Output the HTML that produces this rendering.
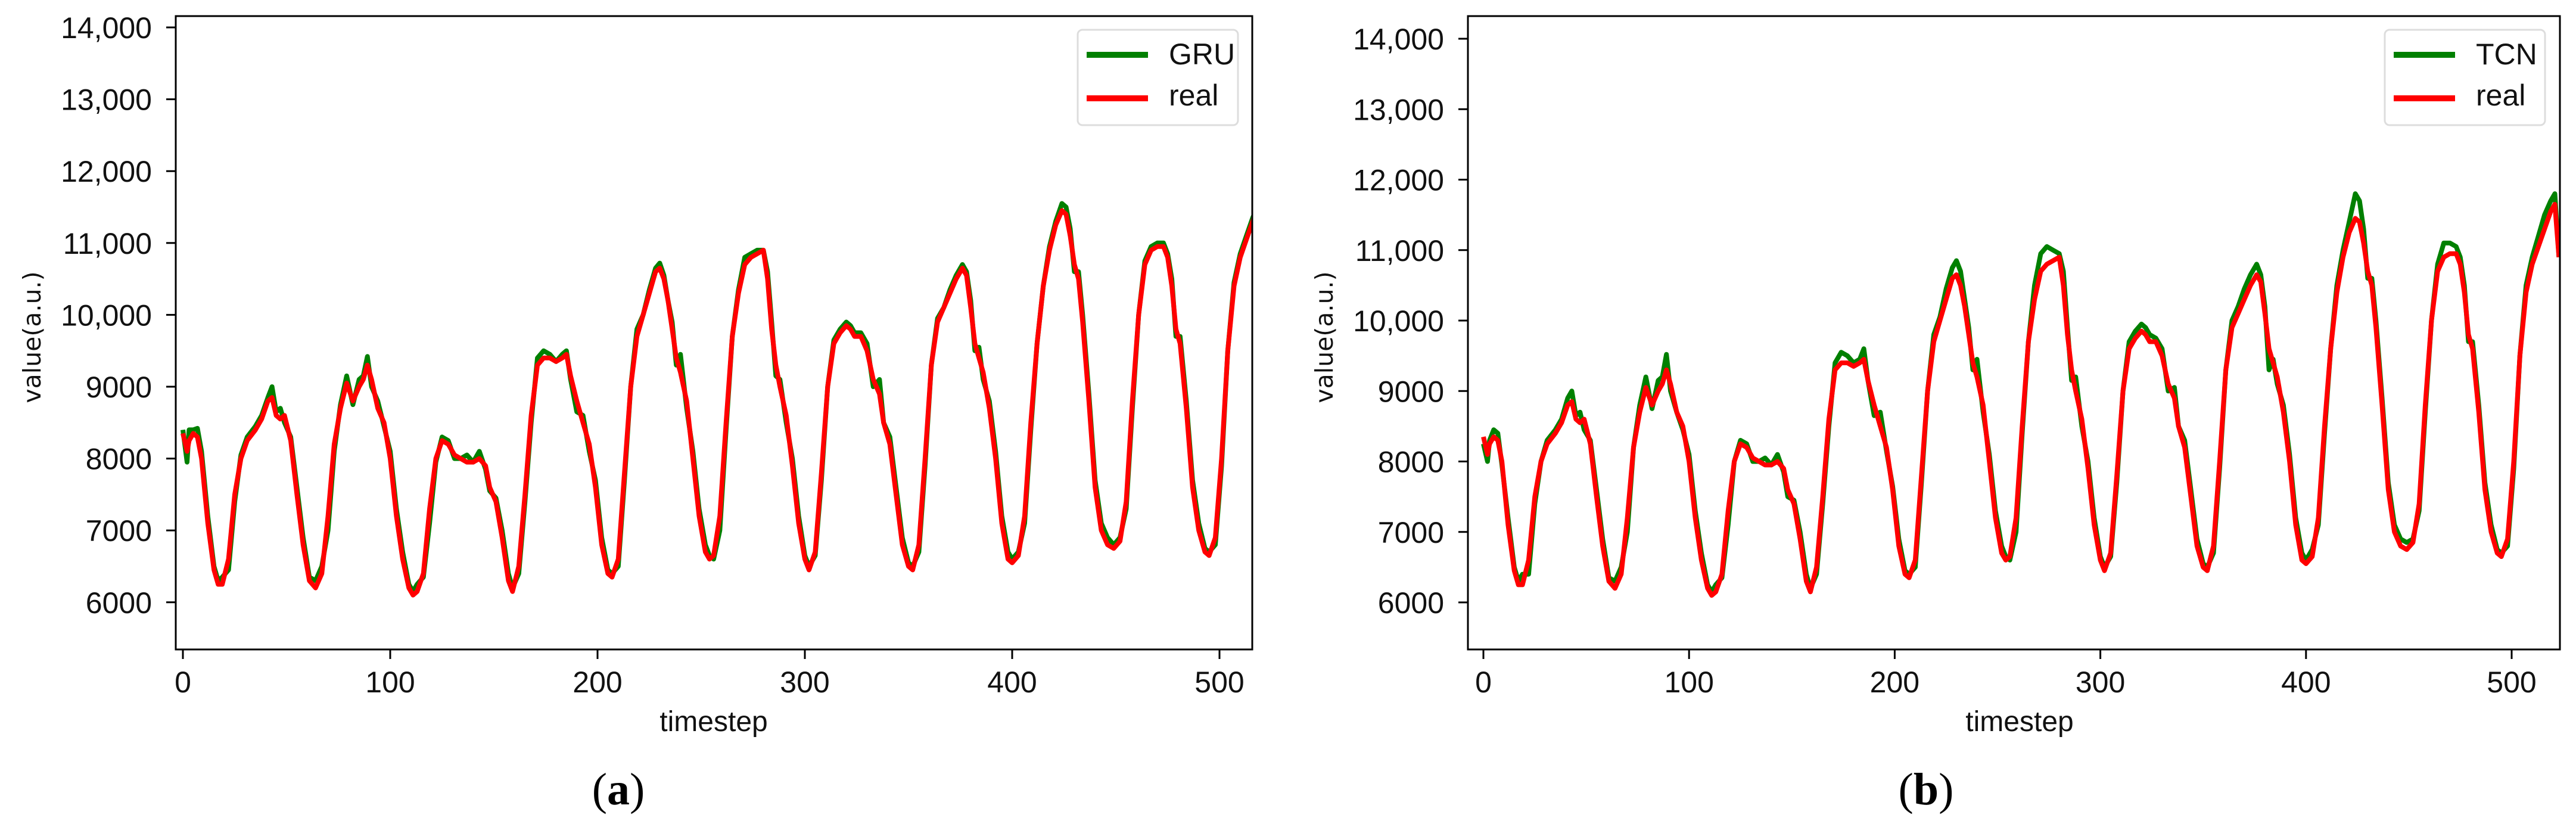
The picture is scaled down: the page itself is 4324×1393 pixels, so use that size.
<!DOCTYPE html>
<html><head><meta charset="utf-8"><style>
html,body{margin:0;padding:0;background:#fff;}
svg{display:block;}
</style></head><body>
<svg id="fig" width="4324" height="1393" viewBox="0 0 4324 1393" xmlns="http://www.w3.org/2000/svg"></svg>
<script>
const timesteps=[0,2,3,5,7,9,12,15,17,19,22,25,28,31,35,38,41,43,45,47,49,52,55,58,61,64,67,70,73,76,79,82,85,87,89,91,94,97,100,103,106,109,111,113,116,119,122,125,128,131,134,137,140,143,146,148,151,154,157,159,162,165,168,171,174,177,180,183,185,187,190,193,196,199,202,205,207,210,213,216,219,222,225,228,230,232,234,236,238,240,243,246,249,252,254,256,259,262,265,268,271,274,277,280,282,284,286,288,291,294,297,300,302,305,308,311,314,317,320,322,324,327,330,333,336,338,341,344,347,350,352,355,358,361,364,367,370,373,376,378,380,382,384,386,389,392,395,398,400,403,406,409,412,415,418,421,424,426,428,430,432,434,437,440,443,446,449,452,455,458,461,464,467,470,473,475,477,479,481,484,487,490,493,495,498,501,504,507,510,513,516,519,521,523];
const realValues=[8350,8100,8250,8350,8300,8000,7100,6450,6250,6250,6600,7500,8000,8250,8400,8550,8800,8850,8600,8550,8600,8250,7500,6800,6300,6200,6400,7200,8200,8700,9050,8800,9000,9100,9300,9100,8700,8500,8000,7200,6600,6200,6100,6150,6400,7300,8000,8250,8200,8050,8000,7950,7950,8000,7900,7600,7400,6900,6300,6150,6500,7500,8600,9300,9400,9400,9350,9400,9450,9150,8800,8500,8200,7600,6800,6400,6350,6600,7800,9000,9700,10000,10300,10600,10650,10500,10200,9800,9400,9200,8800,8000,7200,6700,6600,6650,7200,8500,9700,10300,10700,10800,10850,10900,10500,9800,9300,9000,8600,7900,7100,6600,6450,6700,7800,9000,9600,9750,9850,9800,9700,9700,9500,9100,8900,8500,8200,7500,6800,6500,6450,6800,8000,9300,9900,10100,10300,10500,10650,10550,10100,9600,9400,9200,8700,8000,7100,6600,6550,6650,7200,8500,9600,10400,10900,11250,11450,11400,11100,10700,10500,9900,8800,7600,7000,6800,6750,6850,7400,8800,10000,10700,10900,10950,10950,10800,10400,9800,9600,8700,7600,7000,6700,6650,6900,8000,9500,10400,10800,11050,11300,11550,11650,10900];
const gruValues=[8400,7950,8400,8400,8420,8100,7200,6500,6300,6350,6450,7400,8050,8300,8450,8600,8850,9000,8650,8700,8500,8300,7600,6900,6350,6300,6500,7000,8100,8750,9150,8750,9100,9150,9420,9000,8800,8450,8100,7300,6700,6250,6150,6250,6350,7100,7950,8300,8250,8000,8000,8050,7950,8100,7850,7550,7450,7000,6400,6200,6400,7400,8500,9400,9500,9450,9350,9450,9500,9100,8650,8600,8100,7700,6900,6450,6400,6500,7700,9000,9800,10000,10350,10650,10720,10550,10200,9900,9300,9450,8700,8100,7300,6800,6650,6600,7000,8400,9700,10350,10800,10850,10900,10900,10600,9900,9150,9100,8500,8000,7200,6650,6500,6650,7700,9000,9650,9800,9900,9850,9750,9750,9600,9000,9100,8500,8300,7600,6900,6550,6500,6700,7900,9300,9950,10100,10350,10550,10700,10600,10200,9500,9550,9100,8800,8100,7200,6700,6600,6700,7100,8400,9600,10400,10950,11300,11550,11500,11200,10600,10600,10000,8900,7700,7100,6900,6800,6900,7300,8700,10000,10750,10950,11000,11000,10850,10500,9700,9700,8800,7700,7100,6750,6700,6800,7900,9500,10450,10850,11100,11350,11550,11650,10900];
const tcnValues=[8250,8000,8300,8450,8400,7950,7200,6500,6300,6400,6400,7400,8000,8300,8450,8600,8900,9000,8650,8700,8450,8300,7600,6900,6350,6300,6500,7000,8200,8800,9200,8750,9150,9200,9520,9000,8700,8450,8100,7300,6700,6250,6150,6250,6350,7100,8000,8300,8250,8000,8000,8050,7950,8100,7850,7500,7450,7000,6400,6200,6400,7400,8500,9400,9550,9500,9400,9450,9600,9150,8650,8700,8150,7650,6900,6450,6400,6500,7700,9000,9800,10050,10450,10750,10850,10700,10300,9900,9300,9450,8700,8100,7300,6800,6650,6600,7000,8400,9700,10500,10950,11050,11000,10950,10700,9900,9150,9200,8500,8000,7200,6650,6500,6650,7700,9000,9700,9850,9950,9900,9800,9750,9600,9000,9050,8500,8300,7600,6900,6550,6500,6700,7900,9300,10000,10200,10450,10650,10800,10650,10200,9300,9450,9100,8800,8100,7200,6700,6600,6750,7100,8400,9600,10500,11000,11400,11800,11700,11300,10600,10600,10000,8900,7700,7100,6900,6850,6900,7300,8700,10000,10800,11100,11100,11050,10900,10500,9700,9700,8800,7700,7100,6750,6700,6800,7900,9500,10500,10900,11200,11500,11700,11800,10900];
const yTickValues=[6000,7000,8000,9000,10000,11000,12000,13000,14000];
const yTickLabels=["6000","7000","8000","9000","10,000","11,000","12,000","13,000","14,000"];
const xTickValues=[0,100,200,300,400,500];
const xTickLabels=["0","100","200","300","400","500"];

const NS="http://www.w3.org/2000/svg";
const svg=document.getElementById('fig');
function mk(tag,attrs,parent,text){const e=document.createElementNS(NS,tag);for(const k in attrs)e.setAttribute(k,attrs[k]);if(text!==undefined)e.textContent=text;(parent||svg).appendChild(e);return e;}

const panels=[
 {id:'a',left:295,right:2102,top:27,bottom:1090,x0:307,xPer100:348,y14:46,yPer1000:120.6,pred:gruValues,predName:'GRU',legL:1809,legR:2078,lab:'(a)',labX:1038,yLabX:56,xLabX:1198,tickR:255},
 {id:'b',left:2464,right:4297,top:27,bottom:1090,x0:2490,xPer100:345.2,y14:65,yPer1000:118.25,pred:tcnValues,predName:'TCN',legL:4003,legR:4272,lab:'(b)',labX:3233,yLabX:2225,xLabX:3390,tickR:2424}
];

panels.forEach(p=>{
 const xs=t=>p.x0+t*p.xPer100/100;
 const ys=v=>p.y14+(14000-v)*p.yPer1000/1000;
 const g=mk('g',{});
 
 
 const cp=mk('clipPath',{id:'clip-'+p.id},g);
 mk('rect',{x:p.left,y:p.top,width:p.right-p.left,height:p.bottom-p.top},cp);
 // series
 [[p.pred,'#008000',p.predName.toLowerCase()+'-line'],[realValues,'#ff0000','real-line']].forEach(s=>{
  let d='';
  timesteps.forEach((t,i)=>{d+=(i?'L':'M')+xs(t).toFixed(1)+','+ys(s[0][i]).toFixed(1);});
  const path=mk('path',{d:d,fill:'none',stroke:s[1],'stroke-width':8,'stroke-linejoin':'round','clip-path':'url(#clip-'+p.id+')'},g);
  
  
 });
 // frame
 const fr=mk('rect',{x:p.left,y:p.top,width:p.right-p.left,height:p.bottom-p.top,fill:'none',stroke:'#000','stroke-width':3},g);
 
 
 // y ticks
 yTickValues.forEach((v,i)=>{
  const y=ys(v);
  const tk=mk('line',{x1:p.left-16,x2:p.left,y1:y,y2:y,stroke:'#000','stroke-width':3},g);
  
  
  const tx=mk('text',{x:p.tickR,y:y+18,'text-anchor':'end','font-family':'Liberation Sans, sans-serif','font-size':50,fill:'#111'},g,yTickLabels[i]);
  
  
 });
 // x ticks
 xTickValues.forEach((v,i)=>{
  const x=xs(v);
  const tk=mk('line',{x1:x,x2:x,y1:p.bottom,y2:p.bottom+16,stroke:'#000','stroke-width':3},g);
  
  
  const tx=mk('text',{x:x,y:1162,'text-anchor':'middle','font-family':'Liberation Sans, sans-serif','font-size':50,fill:'#111'},g,xTickLabels[i]);
  
  
 });
 // axis titles
 const xt=mk('text',{x:p.xLabX,y:1227,'text-anchor':'middle','font-family':'Liberation Sans, sans-serif','font-size':48,fill:'#111'},g,'timestep');
 
 
 const yt=mk('text',{x:0,y:0,'text-anchor':'middle','font-family':'DejaVu Sans, sans-serif','font-size':41,fill:'#111',transform:'translate('+(p.yLabX+12)+',566) rotate(-90)'},g,'value(a.u.)');
 
 
 // legend
 const lg=mk('g',{},g);
 
 
 mk('rect',{x:p.legL,y:50,width:p.legR-p.legL,height:160,rx:8,fill:'#fff',stroke:'#ddd','stroke-width':3},lg);
 [[p.predName,'#008000',92,108],['real','#ff0000',165,177]].forEach(e=>{
  const en=mk('g',{},lg);
  
  
  mk('line',{x1:p.legL+15,x2:p.legL+118,y1:e[2],y2:e[2],stroke:e[1],'stroke-width':10},en);
  mk('text',{x:p.legL+153,y:e[3],'font-family':'Liberation Sans, sans-serif','font-size':50,fill:'#111'},en,e[0]);
 });
 // panel label
 const pl=mk('text',{x:p.labX,y:1350,'text-anchor':'middle','font-family':'Liberation Serif, serif','font-size':76,fill:'#000'},g);
 
 
 mk('tspan',{},pl,'(');
 mk('tspan',{'font-weight':'bold'},pl,p.id);
 mk('tspan',{},pl,')');
});
</script>
</body></html>
